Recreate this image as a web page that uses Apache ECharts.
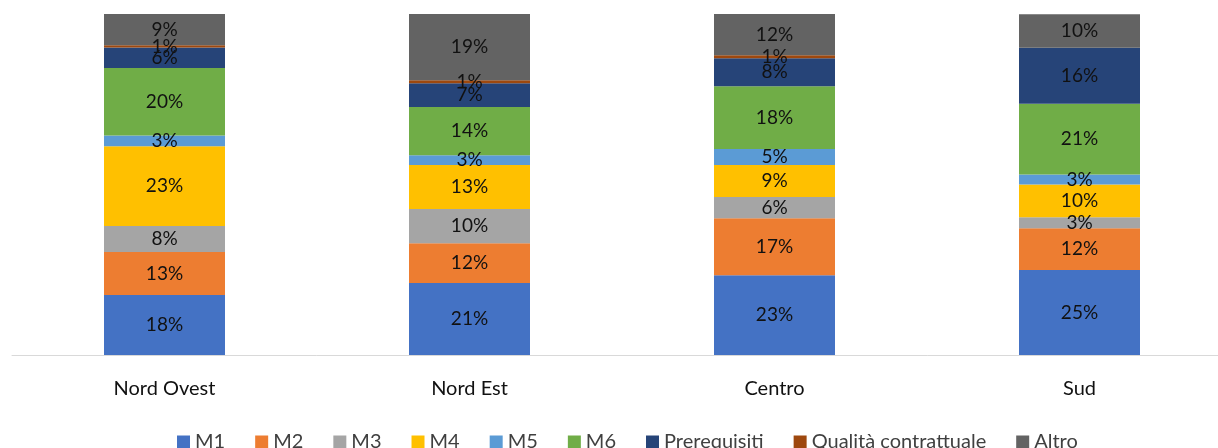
<!DOCTYPE html>
<html lang="it">
<head>
    <meta charset="UTF-8">
    <title>Composizione</title>
    <script src="https://cdn.jsdelivr.net/npm/echarts@6/dist/echarts.min.js"></script>
    <style>
        html, body { margin: 0; padding: 0; background: #fff; overflow: hidden; }
    </style>
</head>
<body>
<div id="main" style="width: 1232px;height:448px;"></div>
<script>
    var categories = ['Nord Ovest', 'Nord Est', 'Centro', 'Sud'];
    var seriesNames = ['M1', 'M2', 'M3', 'M4', 'M5', 'M6', 'Prerequisiti', 'Qualità contrattuale', 'Altro'];
    var m1 = [17.6, 21.1, 23.4, 24.9];
    var m2 = [12.6, 11.7, 16.7, 12.3];
    var m3 = [7.6, 10.0, 6.2, 3.2];
    var m4 = [23.4, 12.9, 9.4, 9.6];
    var m5 = [3.2, 2.9, 4.7, 2.9];
    var m6 = [19.8, 14.1, 18.4, 20.8];
    var prerequisiti = [6.0, 7.0, 8.2, 16.4];
    var qualita = [0.6, 0.9, 0.9, 0];
    var altro = [9.4, 19.4, 12.1, 9.8];

    var values = [m1, m2, m3, m4, m5, m6, prerequisiti, qualita, altro];
    var colors = ['#4472C4', '#ED7D31', '#A5A5A5', '#FFC000', '#5B9BD5', '#70AD47', '#264478', '#9E480E', '#636363'];

    var myChart = echarts.init(document.getElementById('main'));
    var series = [];
    for (var i = 0; i < seriesNames.length; i++) {
        series.push({
            name: seriesNames[i],
            type: 'bar',
            stack: 'tot',
            barWidth: 121,
            data: values[i],
            itemStyle: { color: colors[i] },
            label: {
                show: true,
                position: 'inside',
                color: '#111',
                fontFamily: 'Lato',
                fontSize: 19,
                formatter: function (p) {
                    return p.value > 0 ? Math.round(p.value) + '%' : '';
                }
            }
        });
    }

    option = {
        animation: false,
        textStyle: { fontFamily: 'Lato' },
        grid: { left: 12, right: 0, top: 14, height: 341 },
        legend: {
            data: seriesNames,
            bottom: -9,
            left: 172,
            icon: 'rect',
            itemWidth: 13,
            itemHeight: 13,
            itemGap: 30,
            textStyle: { color: '#404040', fontSize: 20, fontFamily: 'Lato' }
        },
        xAxis: {
            type: 'category',
            data: categories,
            axisLine: { lineStyle: { color: '#D9D9D9', width: 1 } },
            axisTick: { show: false },
            axisLabel: { color: '#111', fontSize: 20, margin: 24, fontFamily: 'Lato' }
        },
        yAxis: {
            type: 'value',
            min: 0,
            max: 100,
            show: false
        },
        series: series
    };

    myChart.setOption(option);
</script>
</body>
</html>
